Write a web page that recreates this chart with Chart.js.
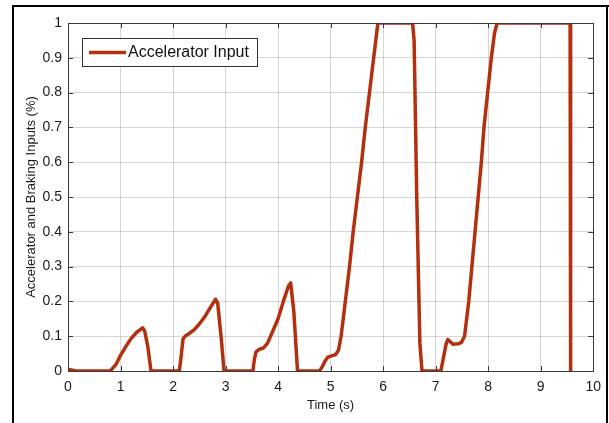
<!DOCTYPE html>
<html>
<head>
<meta charset="utf-8">
<script src="https://cdn.jsdelivr.net/npm/chart.js@4"></script>
<style>
  html, body { margin: 0; padding: 0; background: #fff; }
  #wrap { position: relative; width: 609px; height: 423px; }
</style>
</head>
<body>
<div id="wrap"><canvas id="chart" width="609" height="423"></canvas></div>
<script>
// time (s) and accelerator input
const timeS = [0, 0.15, 0.8, 0.85, 0.92, 1.0, 1.1, 1.2, 1.3, 1.42, 1.46, 1.52, 1.58,
  2.12, 2.16, 2.19, 2.23, 2.3, 2.4, 2.5, 2.6, 2.7, 2.81, 2.85, 2.92, 2.97,
  3.52, 3.55, 3.58, 3.64, 3.72, 3.8, 3.9, 4.0, 4.1, 4.2, 4.24, 4.3, 4.37,
  4.79, 4.85, 4.9, 4.95, 5.05, 5.1, 5.15, 5.2, 5.28, 5.36, 5.43, 5.51, 5.59, 5.66, 5.74, 5.82, 5.9,
  6.56, 6.59, 6.64, 6.7, 6.74,
  7.1, 7.15, 7.2, 7.23, 7.27, 7.33, 7.43, 7.49, 7.55, 7.63, 7.69, 7.75, 7.81, 7.87, 7.92, 7.99, 8.06, 8.12, 8.17,
  9.56, 9.57];
const accelInput = [0.005, 0, 0, 0.008, 0.02, 0.045, 0.07, 0.093, 0.11, 0.124, 0.115, 0.07, 0,
  0, 0.05, 0.092, 0.1, 0.107, 0.118, 0.135, 0.155, 0.18, 0.206, 0.195, 0.09, 0,
  0, 0.035, 0.055, 0.062, 0.066, 0.08, 0.115, 0.15, 0.2, 0.245, 0.253, 0.17, 0,
  0, 0.015, 0.03, 0.04, 0.045, 0.048, 0.06, 0.1, 0.2, 0.3, 0.4, 0.5, 0.6, 0.7, 0.8, 0.9, 1.0,
  1.0, 0.95, 0.5, 0.08, 0,
  0, 0.04, 0.078, 0.09, 0.085, 0.077, 0.078, 0.082, 0.1, 0.2, 0.3, 0.4, 0.5, 0.6, 0.7, 0.8, 0.9, 0.97, 1.0,
  1.0, 0];
const xTicks = [0, 1, 2, 3, 4, 5, 6, 7, 8, 9, 10];
const yTicks = [0, 0.1, 0.2, 0.3, 0.4, 0.5, 0.6, 0.7, 0.8, 0.9, 1];

const LINE = '#b3300f';
const FONT = "'Liberation Sans', Arial, sans-serif";

// matlab style box, inward ticks, legend and outer frame
const matlabBox = {
  id: 'matlabBox',
  afterDraw(chart) {
    const { ctx, chartArea: a, scales } = chart;
    ctx.save();
    ctx.strokeStyle = '#3a3a3a';
    ctx.lineWidth = 1;
    ctx.strokeRect(Math.round(a.left) + 0.5, Math.round(a.top) + 0.5,
      Math.round(a.right - a.left), Math.round(a.bottom - a.top));
    ctx.beginPath();
    xTicks.forEach(t => {
      const px = Math.round(scales.x.getPixelForValue(t)) + 0.5;
      ctx.moveTo(px, a.bottom); ctx.lineTo(px, a.bottom - 5);
      ctx.moveTo(px, a.top); ctx.lineTo(px, a.top + 5);
    });
    yTicks.forEach(t => {
      const py = Math.round(scales.y.getPixelForValue(t)) + 0.5;
      ctx.moveTo(a.left, py); ctx.lineTo(a.left + 5, py);
      ctx.moveTo(a.right, py); ctx.lineTo(a.right - 5, py);
    });
    ctx.stroke();

    // legend
    const ds = chart.data.datasets[0];
    ctx.fillStyle = '#fff';
    ctx.fillRect(82, 38, 175, 28);
    ctx.strokeStyle = '#333';
    ctx.strokeRect(82.5, 38.5, 175, 28);
    ctx.strokeStyle = ds.borderColor;
    ctx.lineWidth = 3.5;
    ctx.beginPath(); ctx.moveTo(89, 52.5); ctx.lineTo(126, 52.5); ctx.stroke();
    ctx.fillStyle = '#111';
    ctx.font = '16px ' + FONT;
    ctx.textBaseline = 'middle';
    ctx.fillText(ds.label, 128, 53);

    // outer frame
    ctx.fillStyle = '#000';
    ctx.fillRect(12, 5, 597, 2);
    ctx.fillRect(12, 5, 2, 418);
    ctx.fillRect(606, 5, 2, 418);
    ctx.restore();
  }
};

new Chart(document.getElementById('chart'), {
  type: 'line',
  data: {
    datasets: [{
      label: 'Accelerator Input',
      data: timeS.map((t, i) => ({ x: t, y: accelInput[i] })),
      borderColor: LINE,
      borderWidth: 3.5,
      pointRadius: 0,
      tension: 0,
      borderJoinStyle: 'round',
      borderCapStyle: 'round'
    }]
  },
  options: {
    responsive: false,
    animation: false,
    layout: { padding: { top: 23, right: 15, left: 0, bottom: 0 } },
    plugins: { legend: { display: false }, tooltip: { enabled: false } },
    scales: {
      x: {
        type: 'linear', min: 0, max: 10,
        afterFit(s) { s.height = 52; },
        afterBuildTicks(s) { s.ticks = xTicks.map(v => ({ value: v })); },
        grid: { color: 'rgba(0,0,0,0.16)', drawTicks: false },
        border: { display: false },
        ticks: { padding: 8, color: '#1a1a1a', font: { family: FONT, size: 14 } },
        title: { display: true, text: 'Time (s)', color: '#1a1a1a',
          font: { family: FONT, size: 13 }, padding: { top: 10, bottom: 10 } }
      },
      y: {
        min: 0, max: 1,
        afterFit(s) { s.width = 68; },
        afterBuildTicks(s) { s.ticks = yTicks.map(v => ({ value: v })); },
        grid: { color: 'rgba(0,0,0,0.16)', drawTicks: false },
        border: { display: false },
        ticks: { padding: 6, color: '#1a1a1a', font: { family: FONT, size: 14 },
          callback: v => String(Math.round(v * 10) / 10) },
        title: { display: true, text: 'Accelerator and Braking Inputs (%)', color: '#1a1a1a',
          font: { family: FONT, size: 13 }, padding: { top: 24, bottom: 24 } }
      }
    }
  },
  plugins: [matlabBox]
});
</script>
</body>
</html>
